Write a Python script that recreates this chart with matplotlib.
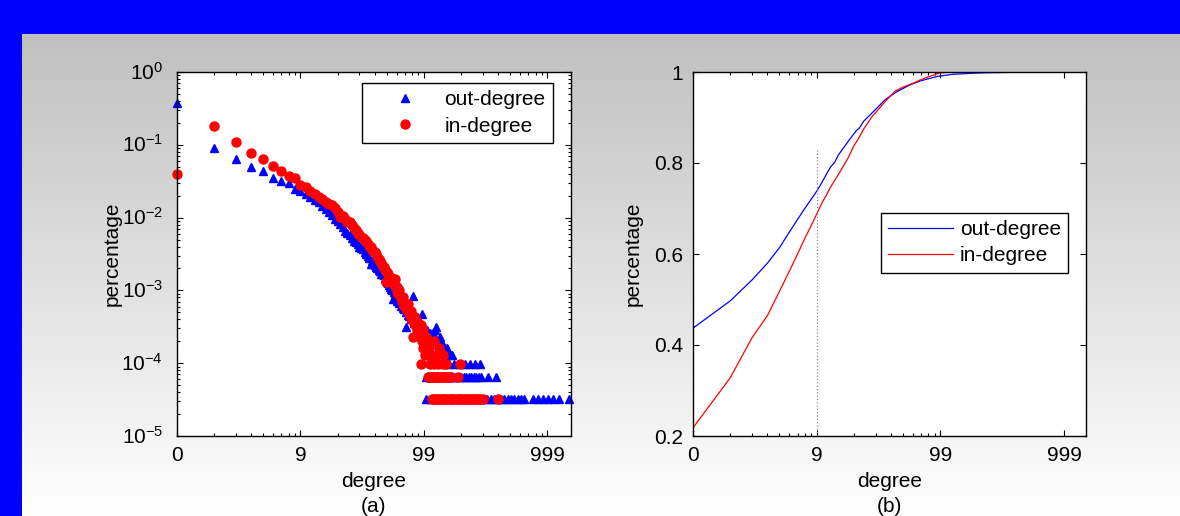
import numpy as np
import matplotlib
matplotlib.use("Agg")
import matplotlib.pyplot as plt
import matplotlib.transforms as mtransforms
from matplotlib.ticker import FixedLocator, FixedFormatter, NullFormatter

plt.rcParams['font.family'] = ['Liberation Sans', 'DejaVu Sans']
plt.rcParams['axes.unicode_minus'] = False

# ---- (a) degree distribution, body of the curve ----
out_deg = [0, 1, 2, 3, 4, 5, 6, 7, 8, 9,
           10, 11, 12, 13, 14, 15, 16, 17, 18, 19,
           20, 21, 22, 23, 24, 25, 26, 27, 28, 29,
           30, 31, 32, 33, 34, 35, 36, 37, 38, 39,
           40, 41, 42, 43, 44, 45, 46, 47, 48, 49,
           50, 51, 52, 53, 54, 55, 56, 57, 58, 59,
           60, 62, 64, 66, 68, 70, 71, 73, 75, 77,
           78, 80, 82, 84, 86, 88, 90, 92, 94, 95,
           97, 100, 104, 110, 113, 117, 121, 125, 130, 133,
           137, 142, 147, 152, 158, 166]
out_pct = [0.37, 0.089, 0.063, 0.050, 0.044, 0.035, 0.032, 0.030, 0.0245, 0.023,
           0.021, 0.019, 0.0175, 0.0163, 0.0145, 0.0130, 0.0120, 0.0108, 0.0095, 0.0090,
           0.0082, 0.0075, 0.0066, 0.0062, 0.0058, 0.0052, 0.0048, 0.0046, 0.0043, 0.0040,
           0.0038, 0.0037, 0.0034, 0.0032, 0.0030, 0.0028, 0.0023, 0.0025, 0.0023, 0.0022,
           0.0021, 0.0020, 0.0019, 0.00185, 0.0017, 0.0017, 0.00165, 0.0015, 0.0014, 0.0013,
           0.00125, 0.00117, 0.0011, 0.00105, 0.0010, 0.00076, 0.00094, 0.00088, 0.00082, 0.00078,
           0.00072, 0.00068, 0.00062, 0.00058, 0.00055, 0.00031, 0.00050, 0.00046, 0.00044, 0.00048,
           0.00040, 0.00085, 0.00036, 0.00039, 0.00033, 0.00036, 0.00030, 0.00029, 0.00026, 0.00048,
           0.00033, 0.00026, 0.00029, 0.00026, 0.00023, 0.00026, 0.00029, 0.00031, 0.00020, 0.00023,
           0.00020, 0.00016, 0.00016, 0.00016, 0.00013, 0.00013]

in_deg = [0, 1, 2, 3, 4, 5, 6, 7, 8, 9,
          10, 11, 12, 13, 14, 15, 16, 17, 18, 19,
          20, 21, 22, 23, 24, 25, 26, 27, 28, 29,
          30, 31, 32, 33, 34, 35, 36, 37, 38, 39,
          40, 41, 42, 43, 44, 45, 46, 47, 48, 49,
          50, 51, 52, 53, 54, 55, 56, 57, 58, 59,
          60, 61, 62, 63, 64, 65, 66, 67, 68, 69,
          70, 71, 72, 73, 74, 75, 76, 77, 78, 79,
          80, 81, 82, 83, 84, 85, 86, 87, 88, 89,
          90, 91, 92, 93, 95, 96, 97, 98, 99, 100,
          102, 104, 108, 109, 112, 120, 125, 132, 141]
in_pct = [0.040, 0.18, 0.11, 0.078, 0.063, 0.051, 0.044, 0.037, 0.035, 0.028,
          0.026, 0.023, 0.021, 0.019, 0.018, 0.0165, 0.0155, 0.0147, 0.0135, 0.012,
          0.0102, 0.0104, 0.0095, 0.0087, 0.0088, 0.0078, 0.0072, 0.0068, 0.0062, 0.0058,
          0.0054, 0.0052, 0.0049, 0.0048, 0.0044, 0.0041, 0.0039, 0.0036, 0.0035, 0.0034,
          0.0032, 0.0029, 0.0027, 0.0025, 0.0024, 0.0022, 0.0021, 0.0019, 0.0013, 0.0018,
          0.0017, 0.0016, 0.0015, 0.0015, 0.0014, 0.0013, 0.0012, 0.00144, 0.0011, 0.0011,
          0.00095, 0.00089, 0.0010, 0.00085, 0.00078, 0.00072, 0.00080, 0.00068, 0.00062, 0.00065,
          0.00058, 0.00055, 0.00062, 0.00065, 0.00052, 0.00049, 0.00046, 0.00052, 0.00042, 0.00039,
          0.00043, 0.00023, 0.00036, 0.00043, 0.00033, 0.00039, 0.00029, 0.00033, 0.00036, 0.00026,
          0.00031, 0.00029, 0.00023, 0.00033, 0.00026, 0.00020, 0.00016, 0.00029, 0.00020, 0.00013,
          0.00023, 0.00016, 0.00020, 0.00016, 0.00013, 0.00020, 0.00013, 0.00016, 0.00013]

# ---- (a) tail: degrees seen by only 1, 2 or 3 nodes ----
one_node = 3.27e-5
two_nodes = 6.5e-5
three_nodes = 9.8e-5

out_tail3 = [159, 175, 193, 212, 234, 257, 284]
out_tail2 = [103, 108, 113, 118, 124, 130, 136, 142, 149, 156, 164, 172, 180, 189,
             198, 208, 218, 229, 240, 252, 264, 277, 289, 329, 385]
out_tail1 = [103, 110, 117, 125, 133, 142, 151, 161, 172, 183, 195, 208, 222, 236,
             252, 268, 286, 305, 325, 346, 369, 393, 419, 446, 475, 506, 539, 574,
             611, 649, 759, 839, 924, 1014, 1109, 1229, 1489]

in_tail3 = [94, 111, 120, 130, 141, 150, 195]
in_tail2 = [106, 109, 112, 115, 118, 121, 124, 127, 130, 134, 138, 142, 146, 150,
            155, 160, 165, 188]
in_tail1 = [116, 120, 124, 128, 133, 138, 143, 148, 154, 160, 166, 172, 179, 186,
            193, 200, 208, 216, 225, 234, 243, 253, 263, 274, 285, 299, 399]

# ---- (b) cumulative distribution ----
out_cdf_deg = [0, 1, 2, 3, 4, 5, 6, 7, 8, 9, 10, 11, 12, 13, 14, 17, 20, 21, 23,
               27, 35, 43, 55, 67, 92, 125, 206, 400, 1499]
out_cdf = [0.437, 0.497, 0.543, 0.580, 0.614, 0.648, 0.676, 0.700, 0.720, 0.738,
           0.757, 0.776, 0.792, 0.802, 0.818, 0.848, 0.872, 0.876, 0.892,
           0.910, 0.940, 0.956, 0.971, 0.980, 0.990, 0.995, 0.998, 0.9995, 1.0]

in_cdf_deg = [0, 1, 2, 3, 4, 5, 6, 7, 8, 9, 10, 11, 12, 13, 15, 17, 19, 21, 23,
              27, 35, 42, 49, 60, 67, 80, 98, 130, 1499]
in_cdf = [0.218, 0.328, 0.416, 0.465, 0.518, 0.562, 0.600, 0.634, 0.662, 0.688,
          0.712, 0.730, 0.748, 0.762, 0.788, 0.812, 0.838, 0.856, 0.875,
          0.902, 0.936, 0.958, 0.967, 0.976, 0.982, 0.990, 0.998, 1.0, 1.0]

cut_deg = 9
cut_top = 0.83

x_ticks = [1, 10, 100, 1000]
x_labels = ['0', '9', '99', '999']
y_ticks_a = [1e-5, 1e-4, 1e-3, 1e-2, 1e-1, 1]
y_exps_a = [-5, -4, -3, -2, -1, 0]

# combine body + tails into one series each
out_x = np.concatenate([out_deg, out_tail3, out_tail2, out_tail1]) + 1
out_y = np.concatenate([out_pct, np.full(len(out_tail3), three_nodes),
                        np.full(len(out_tail2), two_nodes),
                        np.full(len(out_tail1), one_node)])
in_x = np.concatenate([in_deg, in_tail3, in_tail2, in_tail1]) + 1
in_y = np.concatenate([in_pct, np.full(len(in_tail3), three_nodes),
                       np.full(len(in_tail2), two_nodes),
                       np.full(len(in_tail1), one_node)])

W, H = 1180, 516
fig = plt.figure(figsize=(W / 100, H / 100), dpi=100)

# slide style background: blue frame + grey gradient
bg = fig.add_axes([0, 0, 1, 1], zorder=-10)
bg.axis('off')
img = np.ones((H, W, 3))
rows = np.arange(H)
shade = np.clip(192 + (255 - 192) * (rows - 34) / (H - 34), 192, 255) / 255.0
img[:, :, :] = shade[:, None, None]
img[:34, :, :] = [0, 0, 1]
img[:, :22, :] = [0, 0, 1]
bg.imshow(img, aspect='auto', extent=[0, W, H, 0])
bg.set_xlim(0, W)
bg.set_ylim(H, 0)

FS = 15


def style_axes(ax):
    ax.set_facecolor('white')
    for s in ax.spines.values():
        s.set_linewidth(1.0)
        s.set_color('black')
    ax.tick_params(which='both', direction='in', top=True, right=True,
                   labelsize=FS, width=0.8, colors='black')
    ax.tick_params(which='major', length=4, pad=7)
    ax.tick_params(which='minor', length=2)


# ---- left panel ----
ax1 = fig.add_axes([177 / W, 80 / H, 394 / W, 364 / H])
style_axes(ax1)
ax1.set_xscale('log')
ax1.set_yscale('log')
ax1.plot(out_x, out_y, ls='none', marker='^', color='blue', mec='blue',
         ms=5.5, label='out-degree', clip_on=False)
ax1.plot(in_x, in_y, ls='none', marker='o', color='red', mec='red',
         ms=6.5, label='in-degree', clip_on=False)
ax1.set_xlim(1, 1550)
ax1.set_ylim(1e-5, 1)
ax1.xaxis.set_major_locator(FixedLocator(x_ticks))
ax1.xaxis.set_major_formatter(FixedFormatter(x_labels))
ax1.xaxis.set_minor_locator(FixedLocator([m * 10 ** e for e in range(3) for m in range(2, 10)]))
ax1.xaxis.set_minor_formatter(NullFormatter())
ax1.yaxis.set_major_locator(FixedLocator(y_ticks_a))
ax1.yaxis.set_major_formatter(NullFormatter())
ax1.yaxis.set_minor_locator(FixedLocator([m * 10.0 ** e for e in range(-5, 0) for m in range(2, 10)]))
ax1.yaxis.set_minor_formatter(NullFormatter())
# MATLAB style labels: the "10" sits centred on the tick, exponent above it
lab_tr = (mtransforms.blended_transform_factory(ax1.transAxes, ax1.transData)
          + mtransforms.ScaledTranslation(-0.14, -0.075, fig.dpi_scale_trans))
for v, e in zip(y_ticks_a, y_exps_a):
    ax1.text(0, v, r'$\mathregular{10^{%d}}$' % e, transform=lab_tr,
             ha='right', va='baseline', fontsize=FS, clip_on=False)
ax1.set_xlabel('degree', fontsize=FS, labelpad=5)
ax1.set_ylabel('percentage', fontsize=FS, labelpad=33)
ax1.text(0.5, -0.195, '(a)', transform=ax1.transAxes, ha='center', va='center', fontsize=FS)
leg1 = ax1.legend(loc='upper left', bbox_to_anchor=(0.470, 0.970), borderaxespad=0,
                  fontsize=FS, frameon=True, fancybox=False, framealpha=1,
                  edgecolor='black', handlelength=3.4, handletextpad=0.2,
                  borderpad=0.35, labelspacing=0.35)
leg1.get_frame().set_linewidth(1.0)

# ---- right panel ----
ax2 = fig.add_axes([693 / W, 80 / H, 393 / W, 364 / H])
style_axes(ax2)
ax2.set_xscale('log')
ax2.plot(np.array(out_cdf_deg) + 1, out_cdf, color='blue', lw=0.9, label='out-degree')
ax2.plot(np.array(in_cdf_deg) + 1, in_cdf, color='red', lw=0.9, label='in-degree')
ax2.vlines(cut_deg + 1, 0.2, cut_top, colors='0.55', linestyles=':', lw=0.9)
ax2.set_xlim(1, 1500)
ax2.set_ylim(0.2, 1)
ax2.xaxis.set_major_locator(FixedLocator(x_ticks))
ax2.xaxis.set_major_formatter(FixedFormatter(x_labels))
ax2.xaxis.set_minor_locator(FixedLocator([m * 10 ** e for e in range(2) for m in range(2, 10)]))
ax2.xaxis.set_minor_formatter(NullFormatter())
ax2.yaxis.set_major_locator(FixedLocator([0.2, 0.4, 0.6, 0.8, 1.0]))
ax2.yaxis.set_major_formatter(FixedFormatter(['0.2', '0.4', '0.6', '0.8', '1']))
ax2.yaxis.set_minor_locator(FixedLocator([]))
ax2.set_xlabel('degree', fontsize=FS, labelpad=5)
ax2.set_ylabel('percentage', fontsize=FS, labelpad=8)
ax2.text(0.5, -0.195, '(b)', transform=ax2.transAxes, ha='center', va='center', fontsize=FS)
leg2 = ax2.legend(loc='upper left', bbox_to_anchor=(0.478, 0.613), borderaxespad=0,
                  fontsize=FS, frameon=True, fancybox=False, framealpha=1,
                  edgecolor='black', handlelength=3.1, handletextpad=0.35,
                  borderpad=0.35, labelspacing=0.35)
leg2.get_frame().set_linewidth(1.0)

fig.savefig('out.png', dpi=100)
